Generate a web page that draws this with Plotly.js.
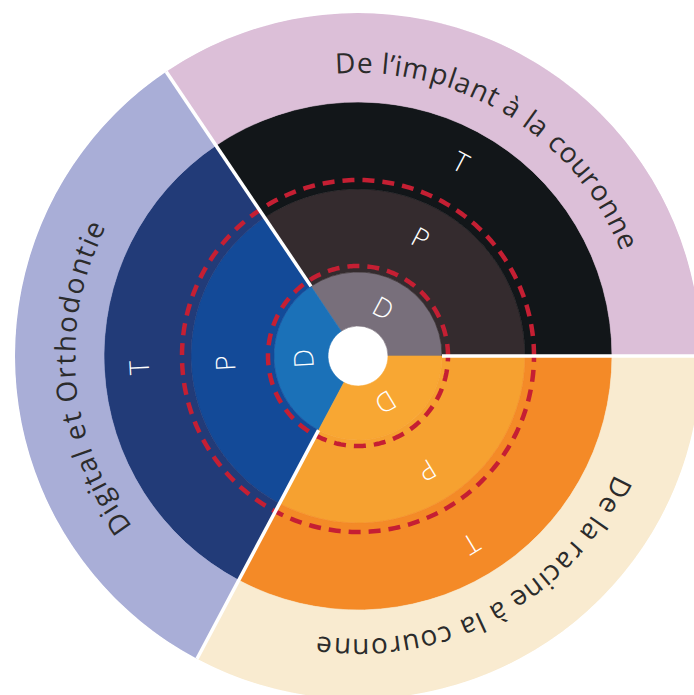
<!DOCTYPE html>
<html><head><meta charset="utf-8">
<script src="https://cdn.plot.ly/plotly-3.0.1.min.js"></script>
<style>
html,body{margin:0;padding:0;background:#fff;overflow:hidden;width:694px;height:695px}
#chart{position:absolute;left:15px;top:13px;width:686px;height:686px}
</style>
</head><body><div id="chart"></div>
<script>
// ---- data ----
const sectorNames = ["De l’implant à la couronne", "Digital et Orthodontie", "De la racine à la couronne"];
const sectorSpans = [124, 118, 118];           // angular size of each sector (deg)
const levelNames = ["D", "P", "T"];
const ringEdges = [30, 84, 167, 254, 343];     // hole, D, P, T, label ring (radial units)
const dashedRadii = [90, 176];
const ringColors = [
  ['#786f7b', '#1b71b8', '#f8a733'],  // D
  ['#342b2e', '#134a98', '#f6a130'],  // P
  ['#121619', '#223b78', '#f48a27'],  // T
  ['#dcbfd8', '#a9aed7', '#f9ebd0']   // label ring
];
const letterRadii = [55, 134, 220];
const labelArcs = [[92.5, 23.2], [215, 154.5], [333.2, 263.3]];  // first/last glyph angle
const labelRadius = 294;

// ---- geometry from data ----
const R = ringEdges[ringEdges.length - 1];
const bounds = [0];
sectorSpans.forEach(s => bounds.push(bounds[bounds.length - 1] + s));
const centers = sectorSpans.map((s, i) => bounds[i] + s / 2);

const traces = [];
for (let lv = 0; lv < 4; lv++) {
  traces.push({
    type: 'barpolar',
    theta: centers,
    width: sectorSpans,
    base: sectorSpans.map(() => ringEdges[lv]),
    r: sectorSpans.map(() => ringEdges[lv + 1] - ringEdges[lv]),
    marker: {color: ringColors[lv], line: {color: ringColors[lv], width: 0.6}},
    hoverinfo: 'skip', showlegend: false
  });
}
// dashed circles
const circTheta = [];
for (let a = 0; a <= 360; a += 1) circTheta.push(a);
dashedRadii.forEach(rd => traces.push({
  type: 'scatterpolar', mode: 'lines', theta: circTheta, r: circTheta.map(() => rd),
  line: {color: '#c51f33', width: 4.5, dash: '12px,8px'}, hoverinfo: 'skip', showlegend: false
}));
// white separators
bounds.slice(0, 3).forEach(b => traces.push({
  type: 'scatterpolar', mode: 'lines', theta: [b, b], r: [ringEdges[1], R + 5],
  line: {color: '#ffffff', width: 3.5}, hoverinfo: 'skip', showlegend: false
}));

// ---- annotations ----
function toPaper(rad, phi) {
  const p = phi * Math.PI / 180;
  return {x: 0.5 + 0.5 * rad / R * Math.cos(p), y: 0.5 + 0.5 * rad / R * Math.sin(p)};
}
function normAngle(a) { while (a > 180) a -= 360; while (a < -180) a += 360; return a; }
const annotations = [];
const letterFont = {family: '"Open Sans", sans-serif', size: 27, color: '#ffffff', weight: 300};
centers.forEach(c => {
  levelNames.forEach((L, i) => {
    const p = toPaper(letterRadii[i], c);
    annotations.push({x: p.x, y: p.y, xref: 'paper', yref: 'paper', text: L, showarrow: false,
      xanchor: 'center', yanchor: 'middle', textangle: normAngle(90 - c), font: letterFont});
  });
});
const labelSize = 28;
const ctx = document.createElement('canvas').getContext('2d');
ctx.font = `400 ${labelSize}px "Open Sans"`;
sectorNames.forEach((txt, k) => {
  const chars = Array.from(txt);
  const w = chars.map(ch => ctx.measureText(ch).width);
  let acc = 0; const cs = [];
  chars.forEach((ch, i) => { cs.push(acc + w[i] / 2); acc += w[i]; });
  const first = cs[0], last = cs[cs.length - 1];
  const [a0, a1] = labelArcs[k];
  chars.forEach((ch, i) => {
    if (ch === ' ') return;
    const phi = a0 + (a1 - a0) * (cs[i] - first) / (last - first);
    const p = toPaper(labelRadius, phi);
    annotations.push({x: p.x, y: p.y, xref: 'paper', yref: 'paper', text: ch, showarrow: false,
      xanchor: 'center', yanchor: 'middle', textangle: normAngle(90 - phi),
      font: {family: '"Open Sans", sans-serif', size: labelSize, color: '#2b2b2b'}});
  });
});

const layout = {
  width: 686, height: 686, margin: {l: 0, r: 0, t: 0, b: 0},
  paper_bgcolor: 'rgba(0,0,0,0)', plot_bgcolor: 'rgba(0,0,0,0)',
  showlegend: false,
  polar: {
    domain: {x: [0, 1], y: [0, 1]}, bgcolor: 'rgba(0,0,0,0)', barmode: 'overlay',
    radialaxis: {range: [0, R], visible: false, showgrid: false},
    angularaxis: {visible: false, showgrid: false, rotation: 0, direction: 'counterclockwise'}
  },
  annotations: annotations
};
Plotly.newPlot('chart', traces, layout, {displayModeBar: false, staticPlot: true});
</script>
</body></html>
